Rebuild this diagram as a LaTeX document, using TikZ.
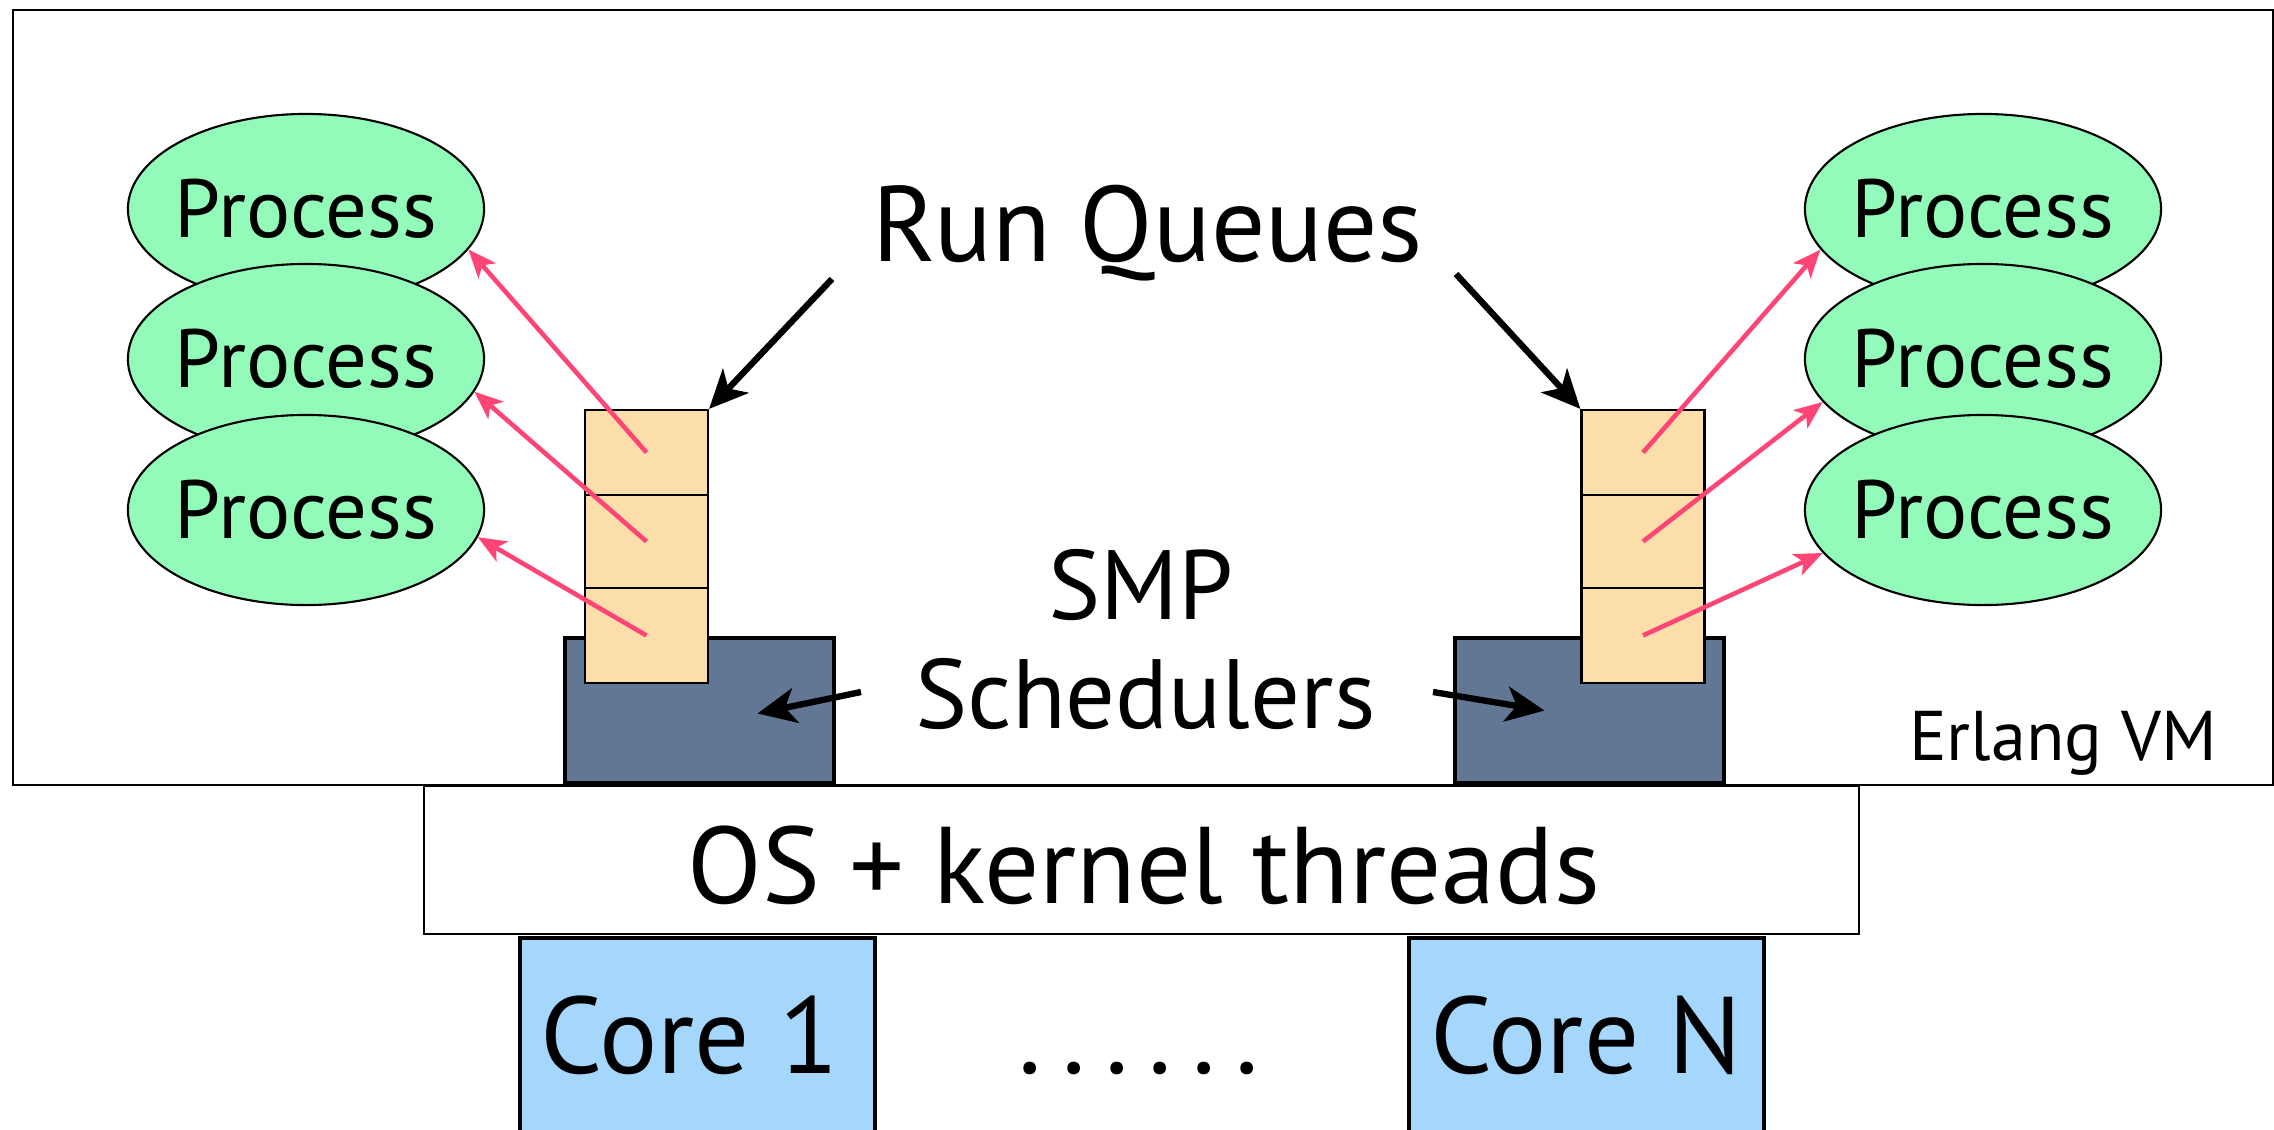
\documentclass[tikz,border=0pt]{standalone}
\usepackage{fontspec}
\setmainfont{PT Sans}
\usetikzlibrary{arrows.meta,calc,shapes.geometric}

\definecolor{procgreen}{RGB}{147,251,185}
\definecolor{queuepeach}{RGB}{252,222,171}
\definecolor{schedslate}{RGB}{98,119,147}
\definecolor{coreblue}{RGB}{165,215,252}
\definecolor{dispatchpink}{RGB}{255,69,117}

\begin{document}
\begin{tikzpicture}[x=0.01cm,y=-0.01cm,
  proc/.style={ellipse,draw=black,line width=0.6pt,fill=procgreen,
    minimum width=3.56cm,minimum height=1.90cm,inner xsep=-0.6cm,inner ysep=0pt,
    font=\fontsize{23.5}{27}\selectfont},
  slot/.style={rectangle,draw=black,line width=0.6pt,fill=queuepeach,
    minimum width=1.23cm,inner sep=0pt},
  sched/.style={rectangle,draw=black,line width=1.3pt,fill=schedslate,
    minimum width=2.69cm,minimum height=1.45cm,inner sep=0pt},
  core/.style={rectangle,draw=black,line width=1pt,fill=coreblue,
    minimum width=3.55cm,minimum height=2.2cm,inner sep=0pt},
  layer/.style={rectangle,draw=black,line width=0.6pt,fill=white,inner sep=0pt},
  dispatch/.style={draw=dispatchpink,line width=1.3pt,
    -{Stealth[length=8pt,width=6.5pt,inset=2pt]}},
  pointer/.style={draw=black,line width=1.8pt,
    -{Stealth[length=11pt,width=10pt,inset=3pt]}},
  txt/.style={anchor=base,inner sep=0pt},
  big/.style={font=\fontsize{28}{32}\selectfont},
  huge/.style={font=\fontsize{31}{36}\selectfont}
]
\useasboundingbox (0,0) rectangle (2274,1130);
\clip (0,0) rectangle (2274,1130);

% layers: VM, OS, cores
\node[layer,minimum width=22.58cm,minimum height=7.75cm] (vm) at (1143,397.5) {};
\node[layer,minimum width=14.35cm,minimum height=1.48cm] (os) at (1141.5,860) {};
\node[core] (core1) at (697.5,1048) {};
\node[core] (coreN) at (1586.5,1048) {};

% schedulers
\node[sched] (schedL) at (699.5,710.5) {};
\node[sched] (schedR) at (1589.5,710.5) {};

% run queues
\node[slot,minimum height=0.85cm] (qL1) at (646.5,452.5) {};
\node[slot,minimum height=0.93cm] (qL2) at (646.5,541.5) {};
\node[slot,minimum height=0.95cm] (qL3) at (646.5,635.5) {};
\node[slot,minimum height=0.85cm] (qR1) at (1643,452.5) {};
\node[slot,minimum height=0.93cm] (qR2) at (1643,541.5) {};
\node[slot,minimum height=0.95cm] (qR3) at (1643,635.5) {};

% processes
\node[proc] (pL1) at (306,209) {Process};
\node[proc] (pL2) at (306,359) {Process};
\node[proc] (pL3) at (306,510) {Process};
\node[proc] (pR1) at (1983,209) {Process};
\node[proc] (pR2) at (1983,359) {Process};
\node[proc] (pR3) at (1983,510) {Process};

% dispatch from queue slots to processes
\draw[dispatch] (qL1.center) -- (pL1.-14);
\draw[dispatch] (qL2.center) -- (pL2.-11);
\draw[dispatch] (qL3.center) -- (pL3.-9);
\draw[dispatch] (qR1.center) -- (pR1.194);
\draw[dispatch] (qR2.center) -- (pR2.195);
\draw[dispatch] (qR3.center) -- (pR3.195);

% labels
\node[txt,font=\fontsize{30.5}{35}\selectfont] (rq) at (1147.5,261) {Run Queues};
\node[txt,big] (smp) at (1141,619) {SMP};
\node[txt,big] (schedtxt) at (1145.5,728) {Schedulers};
\node[txt,huge] (ostxt) at (1144,903) {OS + kernel threads};
\node[txt,huge] (core1txt) at (689.5,1073) {Core 1};
\node[txt,huge] (coreNtxt) at (1586,1073) {Core N};
\node[txt,huge] (dots) at (1139,1073) {.\kern0.2cm.\kern0.2cm.\kern0.2cm.\kern0.2cm.\kern0.2cm.};
\node[txt,font=\fontsize{20}{24}\selectfont] (vmtxt) at (2063,760) {Erlang VM};

% pointers from the labels
\coordinate (rqL) at (832,279);
\coordinate (rqR) at (1456,274);
\draw[pointer] (rqL) -- (qL1.north east);
\draw[pointer] (rqR) -- (qR1.north west);
\coordinate (spL) at (861,692);
\coordinate (spR) at (1433,692);
\draw[pointer] (spL) -- ($(schedL.center)+(58,3)$);
\draw[pointer] (spR) -- ($(schedR.center)+(-45,0)$);
\end{tikzpicture}
\end{document}
